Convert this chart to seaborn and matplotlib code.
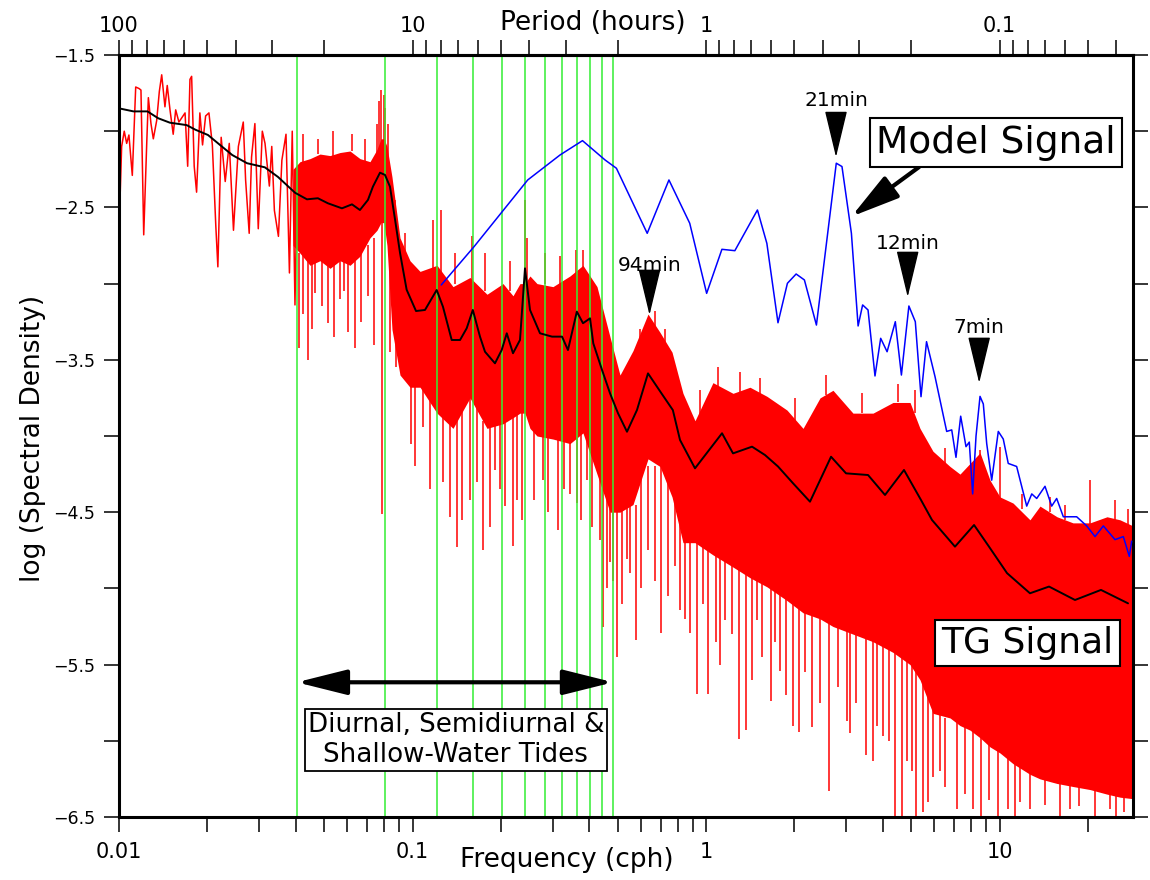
import numpy as np
import pandas as pd
import matplotlib
matplotlib.use("Agg")
import matplotlib.pyplot as plt
import seaborn as sns
from matplotlib.ticker import FixedLocator, FuncFormatter, NullFormatter, LogLocator

# ---------------- data ----------------
# TG signal, sparse low-frequency part drawn as a line
tg_low_freq = [0.01008, 0.01021, 0.01042, 0.01062, 0.01081, 0.01110, 0.01140, 0.01170, 0.01188, 0.01214,
               0.01243, 0.01259, 0.01285, 0.01309, 0.01344, 0.01372, 0.01398, 0.01434, 0.01460, 0.01492,
               0.01530, 0.01560, 0.01600, 0.01679, 0.01714, 0.01745, 0.01768, 0.01804, 0.01838, 0.01886,
               0.01926, 0.01973, 0.02025, 0.02080, 0.02137, 0.02172, 0.02229, 0.02301, 0.02375, 0.02455,
               0.02551, 0.02651, 0.02700, 0.02777, 0.02829, 0.02904, 0.02982, 0.03078, 0.03144, 0.03253,
               0.03315, 0.03384, 0.03493, 0.03589, 0.03707, 0.03808, 0.03893, 0.03977, 0.04055]
tg_low_val = [-2.45, -2.10, -2.00, -2.08, -2.025, -2.29, -1.71, -1.72, -1.73, -2.68,
              -2.08, -1.78, -1.95, -2.05, -1.93, -1.74, -1.63, -1.84, -1.70, -1.86,
              -2.02, -1.86, -1.94, -1.88, -2.23, -1.66, -1.64, -2.23, -2.40, -1.88,
              -2.09, -1.90, -1.88, -2.09, -2.62, -2.89, -2.04, -2.33, -2.08, -2.65,
              -2.10, -1.94, -2.32, -2.67, -2.17, -1.95, -2.64, -2.00, -2.08, -2.36,
              -2.10, -2.52, -2.69, -2.19, -2.02, -2.93, -2.00, -3.14, -2.23]

# TG signal, dense part: upper / lower envelope of the red band
band_freq = [0.03916, 0.04136, 0.04475, 0.04840, 0.05235, 0.05662, 0.06124, 0.06624, 0.07164, 0.07568,
             0.07810, 0.07995, 0.08185, 0.08513, 0.09066, 0.09806, 0.1061, 0.1212, 0.1374, 0.1570,
             0.1794, 0.2034, 0.2200, 0.2324, 0.2416, 0.2513, 0.2656, 0.3010, 0.3440, 0.3809,
             0.4252, 0.4709, 0.5093, 0.5640, 0.6345, 0.6970, 0.7661, 0.8348, 0.9173, 1.056,
             1.236, 1.412, 1.614, 1.888, 2.141, 2.446, 2.708, 3.168, 3.707, 4.337,
             4.956, 5.359, 5.934, 6.783, 7.334, 7.934, 8.583, 9.282, 10.04, 11.12,
             12.70, 13.74, 15.70, 17.80, 20.34, 23.24, 25.74, 28.50]
band_upper = [-2.25, -2.20, -2.18, -2.15, -2.16, -2.14, -2.13, -2.18, -2.20, -2.12,
              -2.05, -2.05, -2.10, -2.30, -2.70, -2.85, -2.92, -2.88, -3.02, -2.96,
              -3.07, -3.00, -3.08, -3.00, -3.00, -2.95, -3.00, -3.02, -2.95, -2.88,
              -3.02, -3.35, -3.60, -3.44, -3.20, -3.32, -3.45, -3.72, -3.90, -3.65,
              -3.72, -3.68, -3.74, -3.83, -3.95, -3.75, -3.70, -3.85, -3.85, -3.78,
              -3.78, -3.95, -4.10, -4.20, -4.25, -4.18, -4.11, -4.29, -4.40, -4.44,
              -4.55, -4.46, -4.53, -4.57, -4.57, -4.53, -4.55, -4.59]
band_lower = [-2.75, -2.80, -2.88, -2.85, -2.90, -2.85, -2.88, -2.82, -2.70, -2.65,
              -2.60, -2.60, -2.75, -3.30, -3.60, -3.68, -3.68, -3.85, -3.95, -3.75,
              -3.95, -3.92, -3.88, -3.85, -3.85, -3.95, -4.00, -4.02, -4.05, -3.98,
              -4.25, -4.50, -4.50, -4.45, -4.15, -4.20, -4.40, -4.70, -4.70, -4.78,
              -4.86, -4.93, -4.99, -5.08, -5.16, -5.20, -5.25, -5.30, -5.35, -5.42,
              -5.50, -5.60, -5.82, -5.85, -5.90, -5.93, -5.98, -6.04, -6.08, -6.15,
              -6.22, -6.25, -6.28, -6.30, -6.32, -6.35, -6.37, -6.38]

# TG signal: isolated downward spikes (frequency, tip, start inside band)
down_spike_freq = [0.04104, 0.04235, 0.04394, 0.04545, 0.04654, 0.04916, 0.05163, 0.05402, 0.05662, 0.05841,
                   0.06042, 0.06370, 0.06675, 0.07070, 0.07390, 0.07852, 0.08382, 0.08787, 0.09861, 0.1020,
                   0.1088, 0.1147, 0.1270, 0.1342, 0.1421, 0.1475, 0.1570, 0.1659, 0.1739, 0.1837,
                   0.1910, 0.1987, 0.2066, 0.2195, 0.2265, 0.2361, 0.2594, 0.2791, 0.2894, 0.3139,
                   0.3282, 0.3440, 0.3626, 0.3750, 0.3922, 0.4088, 0.4352, 0.4467, 0.4600, 0.4709,
                   0.4821, 0.4963, 0.5173, 0.5368, 0.5509, 0.5774, 0.6004, 0.6345, 0.6701, 0.7025,
                   0.7422, 0.7843, 0.8154, 0.8484, 0.8820, 0.9296, 0.9767, 1.018, 1.082, 1.116,
                   1.161, 1.226, 1.295, 1.366, 1.435, 1.488, 1.551, 1.661, 1.719, 1.787,
                   1.873, 1.974, 2.079, 2.174, 2.297, 2.451, 2.631, 2.818, 3.016, 3.095,
                   3.245, 3.500, 3.715, 3.824, 4.018, 4.204, 4.406, 4.643, 4.829, 5.033,
                   5.194, 5.474, 5.705, 5.950, 6.271, 6.521, 7.142, 7.628, 8.123, 8.650,
                   9.182, 9.883, 10.69, 11.29, 11.74, 12.70, 14.29, 16.07, 17.39, 18.63,
                   21.16, 23.79, 25.02, 26.56]
down_spike_bottom = [-3.42, -3.20, -3.50, -3.30, -3.06, -3.15, -3.26, -3.35, -3.10, -3.05,
                     -3.32, -3.42, -3.25, -3.08, -3.40, -4.51, -3.45, -3.55, -4.05, -4.20,
                     -3.94, -4.35, -4.30, -4.53, -4.73, -4.55, -4.42, -4.30, -4.75, -4.60,
                     -4.22, -4.35, -4.46, -4.72, -4.42, -4.55, -4.42, -4.29, -4.50, -4.62,
                     -4.35, -4.38, -4.44, -4.55, -4.29, -4.60, -4.68, -5.25, -5.00, -4.83,
                     -4.95, -5.45, -5.10, -4.81, -4.90, -5.34, -5.00, -4.75, -4.95, -5.29,
                     -5.05, -4.85, -5.14, -5.20, -5.29, -5.69, -5.10, -5.69, -5.35, -5.50,
                     -5.21, -5.30, -5.99, -5.93, -5.60, -5.21, -5.45, -5.74, -5.35, -5.54,
                     -5.70, -5.90, -5.94, -5.55, -5.91, -5.75, -6.33, -5.65, -5.87, -5.95,
                     -5.75, -6.09, -6.13, -5.90, -5.97, -6.00, -6.50, -6.50, -6.13, -6.20,
                     -6.50, -6.47, -6.40, -6.24, -6.20, -6.30, -6.45, -6.35, -6.45, -6.50,
                     -6.39, -6.50, -6.45, -6.50, -6.40, -6.45, -6.42, -6.50, -6.45, -6.43,
                     -6.50, -6.45, -6.50, -6.47]
down_spike_top = [-2.80, -2.80, -2.85, -2.85, -2.85, -2.85, -2.88, -2.85, -2.85, -2.85,
                  -2.85, -2.85, -2.80, -2.75, -2.70, -2.60, -2.90, -3.20, -3.60, -3.65,
                  -3.60, -3.75, -3.85, -3.90, -3.90, -3.80, -3.70, -3.80, -3.90, -3.90,
                  -3.90, -3.90, -3.90, -3.85, -3.85, -3.85, -3.95, -4.00, -4.00, -4.00,
                  -4.00, -4.00, -4.00, -3.95, -3.95, -4.00, -4.10, -4.20, -4.30, -4.40,
                  -4.40, -4.45, -4.45, -4.45, -4.45, -4.45, -4.20, -4.20, -4.20, -4.15,
                  -4.30, -4.40, -4.40, -4.60, -4.60, -4.65, -4.70, -4.70, -4.75, -4.75,
                  -4.80, -4.85, -4.85, -4.90, -4.90, -4.90, -4.95, -4.95, -5.00, -5.00,
                  -5.05, -5.05, -5.10, -5.15, -5.15, -5.20, -5.20, -5.25, -5.25, -5.25,
                  -5.30, -5.30, -5.30, -5.30, -5.35, -5.40, -5.40, -5.45, -5.45, -5.50,
                  -5.50, -5.60, -5.70, -5.80, -5.80, -5.85, -5.85, -5.90, -5.90, -5.95,
                  -6.00, -6.00, -6.10, -6.10, -6.10, -6.20, -6.20, -6.25, -6.25, -6.25,
                  -6.30, -6.30, -6.30, -6.30]

# TG signal: upward spikes (tidal peaks and noise above the band)
up_spike_freq = [0.04235, 0.04764, 0.05359, 0.06220, 0.06886, 0.07568, 0.07689, 0.07810, 0.07995, 0.08091,
                 0.08283, 0.08718, 0.09428, 0.1177, 0.1251, 0.1394, 0.1591, 0.1766, 0.2149, 0.2416,
                 0.2455, 0.2818, 0.3182, 0.3608, 0.3809, 0.5958, 0.6701, 0.7251, 0.9541, 1.099,
                 1.305, 1.528, 2.010, 2.564, 3.400, 4.510, 5.153, 6.521, 8.583, 10.04,
                 11.93, 14.86, 16.72, 20.34, 24.75, 27.41]
up_spike_bottom = [-2.20, -2.15, -2.16, -2.13, -2.20, -2.20, -2.20, -2.20, -2.20, -2.20,
                   -2.20, -2.60, -2.80, -3.00, -3.00, -3.00, -3.00, -3.05, -3.05, -3.10,
                   -3.10, -3.00, -3.00, -2.95, -3.00, -3.50, -3.35, -3.40, -3.90, -3.70,
                   -3.72, -3.73, -3.90, -3.73, -3.85, -3.78, -3.85, -4.18, -4.20, -4.45,
                   -4.48, -4.50, -4.55, -4.60, -4.55, -4.59]
up_spike_top = [-2.02, -2.05, -2.00, -2.02, -2.05, -1.95, -1.80, -1.73, -1.76, -1.85,
                -1.95, -2.45, -2.67, -2.58, -2.52, -2.80, -2.69, -2.80, -2.85, -2.45,
                -2.70, -2.80, -2.82, -2.78, -2.78, -3.30, -3.18, -3.30, -3.70, -3.55,
                -3.58, -3.62, -3.75, -3.60, -3.72, -3.66, -3.70, -4.08, -4.09, -4.07,
                -4.38, -4.40, -4.45, -4.29, -4.42, -4.48]

# TG signal, smoothed (black)
smooth_freq = [0.0100, 0.0112, 0.0125, 0.0136, 0.0149, 0.0170, 0.0182, 0.0201, 0.0224, 0.0243,
               0.0273, 0.0314, 0.0348, 0.0398, 0.0437, 0.0476, 0.0515, 0.0575, 0.0622, 0.0662,
               0.0705, 0.0733, 0.0775, 0.0806, 0.0838, 0.0872, 0.0907, 0.0955, 0.1028, 0.1103,
               0.1209, 0.1270, 0.1360, 0.1452, 0.1530, 0.1605, 0.1698, 0.1766, 0.1910, 0.2013,
               0.2095, 0.2200, 0.2324, 0.2417, 0.2514, 0.2719, 0.2988, 0.3232, 0.3386, 0.3630,
               0.3810, 0.4026, 0.4130, 0.4424, 0.4710, 0.5015, 0.5380, 0.5820, 0.6344, 0.7050,
               0.7710, 0.8155, 0.9173, 1.134, 1.236, 1.435, 1.589, 1.759, 1.979, 2.261,
               2.667, 3.000, 3.565, 4.073, 4.727, 5.402, 5.888, 7.052, 8.190, 9.209,
               10.61, 12.70, 14.75, 18.08, 22.17, 27.41]
smooth_val = [-1.85, -1.87, -1.87, -1.915, -1.944, -1.96, -1.99, -2.025, -2.10, -2.156,
              -2.21, -2.237, -2.30, -2.404, -2.447, -2.44, -2.473, -2.506, -2.48, -2.517,
              -2.451, -2.364, -2.272, -2.287, -2.364, -2.58, -2.80, -3.04, -3.18, -3.173,
              -3.042, -3.152, -3.37, -3.37, -3.293, -3.173, -3.348, -3.447, -3.523, -3.436,
              -3.326, -3.457, -3.37, -2.90, -3.173, -3.326, -3.348, -3.348, -3.436, -3.184,
              -3.26, -3.228, -3.392, -3.567, -3.72, -3.851, -3.972, -3.829, -3.589, -3.72,
              -3.83, -4.026, -4.212, -3.982, -4.114, -4.07, -4.125, -4.20, -4.31, -4.431,
              -4.136, -4.245, -4.256, -4.387, -4.223, -4.42, -4.551, -4.726, -4.584, -4.726,
              -4.90, -5.032, -4.988, -5.076, -5.01, -5.098]

# Model signal (blue)
model_freq = [0.1253, 0.1620, 0.2469, 0.3182, 0.3795, 0.4531, 0.4951, 0.6305, 0.7477, 0.8801,
              1.005, 1.133, 1.254, 1.497, 1.612, 1.759, 1.894, 2.028, 2.164, 2.378,
              2.779, 2.906, 3.129, 3.298, 3.417, 3.565, 3.765, 3.937, 4.140, 4.416,
              4.632, 4.912, 5.166, 5.402, 5.641, 6.029, 6.608, 6.874, 7.108, 7.375,
              7.688, 7.889, 8.101, 8.318, 8.583, 8.807, 9.045, 9.406, 9.906, 10.30,
              10.71, 11.44, 11.90, 12.38, 12.88, 13.39, 14.29, 15.06, 15.66, 16.50,
              18.32, 19.82, 21.16, 22.58, 24.75, 26.42, 27.69, 28.21]
model_val = [-3.009, -2.758, -2.32, -2.156, -2.062, -2.189, -2.243, -2.67, -2.32, -2.604,
             -3.064, -2.775, -2.784, -2.517, -2.736, -3.257, -2.998, -2.937, -2.976, -3.272,
             -2.21, -2.232, -2.67, -3.278, -3.14, -3.173, -3.606, -3.359, -3.447, -3.25,
             -3.60, -3.147, -3.25, -3.742, -3.381, -3.61, -3.97, -3.96, -4.14, -3.87,
             -4.07, -4.04, -4.38, -4.00, -3.74, -3.79, -4.05, -4.29, -3.97, -4.02,
             -4.18, -4.20, -4.33, -4.46, -4.38, -4.41, -4.33, -4.46, -4.41, -4.53,
             -4.53, -4.59, -4.66, -4.59, -4.68, -4.66, -4.79, -4.69]

# Tidal constituent frequencies (green lines), cph
tide_freqs = [0.0403, 0.0805, 0.1208, 0.1610, 0.2013, 0.2415, 0.2818, 0.3220, 0.3623, 0.4025, 0.4428, 0.4830]

# Period annotations: label, frequency, text level, arrow top, arrow tip
peak_labels = ["94min", "21min", "12min", "7min"]
peak_freq = [0.642, 2.773, 4.866, 8.527]
peak_text_val = [-2.878, -1.80, -2.734, -3.291]
peak_arrow_top = [-2.957, -1.88, -2.812, -3.37]
peak_arrow_tip = [-3.206, -2.17, -3.088, -3.652]

x_major_ticks = [0.01, 0.1, 1, 10]
period_major_ticks = [100, 10, 1, 0.1]
y_major_ticks = [-6.5, -5.5, -4.5, -3.5, -2.5, -1.5]
y_minor_ticks = [-6.0, -5.0, -4.0, -3.0, -2.0]

# ---------------- plotting ----------------
sns.set_style("ticks")
plt.rcParams['font.family'] = ['DejaVu Sans']
plt.rcParams.update({'text.color': 'black', 'axes.labelcolor': 'black',
                     'xtick.color': 'black', 'ytick.color': 'black',
                     'axes.edgecolor': 'black', 'axes.unicode_minus': True})

RED = '#ff0000'
BLUE = '#0000ff'
GREEN = '#33ee33'

fig = plt.figure(figsize=(11.5, 8.8), dpi=100)
ax = fig.add_axes([119 / 1150, 1 - 817 / 880, 1014 / 1150, 762 / 880])
ax.set_xscale('log')

tg_low = pd.DataFrame({'freq': tg_low_freq, 'val': tg_low_val})
smooth = pd.DataFrame({'freq': smooth_freq, 'val': smooth_val})
model = pd.DataFrame({'freq': model_freq, 'val': model_val})

ax.fill_between(band_freq, band_lower, band_upper, color=RED, lw=0, zorder=1)
ax.vlines(down_spike_freq, down_spike_bottom, down_spike_top, color=RED, lw=1.1, zorder=1)
ax.vlines(up_spike_freq, up_spike_bottom, up_spike_top, color=RED, lw=1.1, zorder=1)
sns.lineplot(data=tg_low, x='freq', y='val', color=RED, lw=1.1, ax=ax,
             sort=False, estimator=None, zorder=1)

for f in tide_freqs:
    ax.axvline(f, color=GREEN, lw=1.1, zorder=2)

sns.lineplot(data=model, x='freq', y='val', color=BLUE, lw=1.1, ax=ax,
             sort=False, estimator=None, zorder=3)
sns.lineplot(data=smooth, x='freq', y='val', color='black', lw=1.4, ax=ax,
             sort=False, estimator=None, zorder=4)

ax.set_xlim(0.01, 28.5)
ax.set_ylim(-6.5, -1.5)

# ticks
ax.xaxis.set_major_locator(FixedLocator(x_major_ticks))
ax.xaxis.set_major_formatter(FuncFormatter(lambda v, _: f"{v:g}"))
ax.xaxis.set_minor_locator(LogLocator(base=10, subs=np.arange(2, 10)))
ax.xaxis.set_minor_formatter(NullFormatter())
ax.yaxis.set_major_locator(FixedLocator(y_major_ticks))
ax.yaxis.set_major_formatter(FuncFormatter(lambda v, _: f"{v:.1f}".replace('-', '\u2212')))
ax.yaxis.set_minor_locator(FixedLocator(y_minor_ticks))
ax.tick_params(axis='both', which='both', direction='out', length=11, width=1.1, color='black')
ax.tick_params(axis='x', which='both', labelsize=15, pad=7, top=False)
ax.tick_params(axis='y', which='both', labelsize=12.5, pad=6, right=True, labelright=False)
for s in ['left', 'bottom', 'right', 'top']:
    ax.spines[s].set_linewidth(2.2)
    ax.spines[s].set_color('black')


def inv(x):
    x = np.asarray(x, dtype=float)
    with np.errstate(divide='ignore'):
        return 1.0 / x


sec = ax.secondary_xaxis('top', functions=(inv, inv))
sec.xaxis.set_major_locator(FixedLocator(period_major_ticks))
sec.xaxis.set_major_formatter(FuncFormatter(lambda v, _: f"{v:g}"))
sec.xaxis.set_minor_locator(LogLocator(base=10, subs=np.arange(2, 10)))
sec.xaxis.set_minor_formatter(NullFormatter())
sec.tick_params(which='both', direction='out', length=11, width=1.1, labelsize=15, pad=3,
                color='black', labelcolor='black')
sec.spines['top'].set_linewidth(2.2)

# axis labels
ax.set_xlabel('Frequency (cph)', fontsize=19, va='baseline', color='black')
ax.xaxis.set_label_coords(0.4413, -0.066)
sec.set_xlabel('Period (hours)', fontsize=19, va='baseline', color='black')
sec.xaxis.set_label_coords(0.467, 1.0328, transform=ax.transAxes)
ax.set_ylabel('log (Spectral Density)', fontsize=19, color='black')
ax.yaxis.set_label_coords(-0.072, 0.497)

# annotations
ax.text(9.73, -2.075, 'Model Signal', fontsize=27, ha='center', va='center', color='black',
        bbox=dict(boxstyle='square,pad=0.17', fc='white', ec='black', lw=1.5), zorder=7)
ax.text(12.45, -5.356, 'TG Signal', fontsize=26, ha='center', va='center', color='black',
        bbox=dict(boxstyle='square,pad=0.17', fc='white', ec='black', lw=1.5), zorder=7)
ax.text(0.1406, -5.997, 'Diurnal, Semidiurnal &\nShallow-Water Tides', fontsize=18.8,
        ha='center', va='center', linespacing=1.2, color='black',
        bbox=dict(boxstyle='square,pad=0.12', fc='white', ec='black', lw=1.3), zorder=7)

ax.annotate('', xy=(tide_freqs[-1], -5.616), xytext=(tide_freqs[0], -5.616),
            arrowprops=dict(arrowstyle='<|-|>,head_length=1.4,head_width=0.35', mutation_scale=22,
                            lw=3, color='black', shrinkA=0, shrinkB=0), zorder=6)
ax.annotate('', xy=(3.13, -2.56), xytext=(5.32, -2.235),
            arrowprops=dict(arrowstyle='-|>,head_length=1.35,head_width=0.36', mutation_scale=22,
                            lw=3, color='black', shrinkA=0, shrinkB=0), zorder=6)

for lab, f, tv, at, tip in zip(peak_labels, peak_freq, peak_text_val, peak_arrow_top, peak_arrow_tip):
    ax.text(f, tv, lab, fontsize=14.5, ha='center', va='center', color='black', zorder=7)
    ax.annotate('', xy=(f, tip), xytext=(f, at),
                arrowprops=dict(arrowstyle='-|>,head_length=1.5,head_width=0.36', mutation_scale=20,
                                lw=1, color='black', shrinkA=0, shrinkB=0), zorder=6)

fig.savefig('out.png', dpi=100)
